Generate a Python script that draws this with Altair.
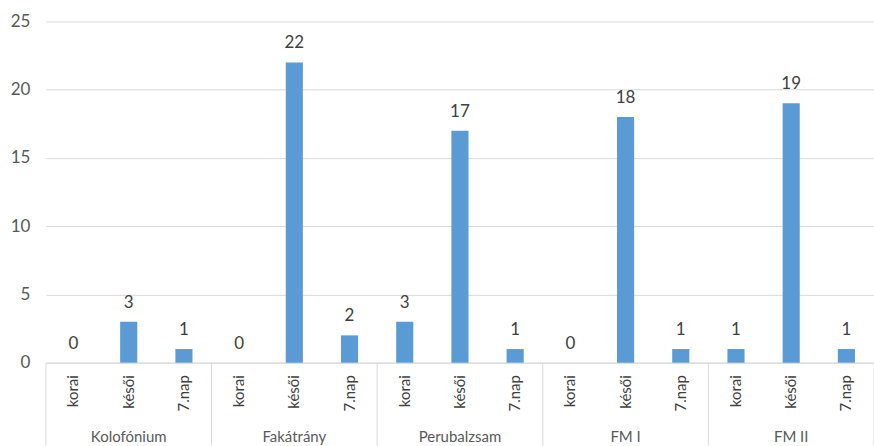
import altair as alt
import pandas as pd

# Groups, phases and counts
groups = ["Kolofónium", "Fakátrány", "Perubalzsam", "FM I", "FM II"]
phases = ["korai", "késői", "7.nap"]
counts = [
    0, 3, 1,     # Kolofónium
    0, 22, 2,    # Fakátrány
    3, 17, 1,    # Perubalzsam
    0, 18, 1,    # FM I
    1, 19, 1,    # FM II
]
y_ticks = [0, 5, 10, 15, 20, 25]

rows = []
i = 0
for g in groups:
    for p in phases:
        rows.append({"group": g, "phase": p, "key": f"{g}|{p}", "value": counts[i]})
        i += 1
df = pd.DataFrame(rows)
order = list(df["key"])

firsts = pd.DataFrame({"key": [f"{g}|{phases[0]}" for g in groups]})
lasts = pd.DataFrame({"key": [f"{groups[-1]}|{phases[-1]}"]})
mids = pd.DataFrame({"key": [f"{g}|{phases[1]}" for g in groups], "group": groups})

FONT = "Lato"
TXT = "#595959"
DARK = "#404040"
LINE = "#d9d9d9"
H = 342

x_enc = alt.X(
    "key:N",
    sort=order,
    scale=alt.Scale(paddingInner=0, paddingOuter=0),
    axis=alt.Axis(
        title=None,
        labelExpr="split(datum.value, '|')[1]",
        labelAngle=270,
        labelAlign="right",
        labelBaseline="middle",
        labelPadding=12,
        labelFont=FONT,
        labelFontSize=15,
        labelColor=DARK,
        ticks=False,
        domainColor=LINE,
        domainWidth=1,
        grid=False,
    ),
)

y_enc = alt.Y(
    "value:Q",
    scale=alt.Scale(domain=[0, 25], nice=False),
    axis=alt.Axis(
        title=None,
        values=y_ticks,
        domain=False,
        ticks=False,
        labelPadding=16,
        labelFont=FONT,
        labelFontSize=17,
        labelColor=TXT,
        gridColor=LINE,
        gridWidth=1,
    ),
)

bars = alt.Chart(df).mark_bar(color="#5B9BD5", width={"band": 0.31}).encode(x=x_enc, y=y_enc)

values = alt.Chart(df).mark_text(
    font=FONT, fontSize=17, color=DARK, baseline="alphabetic", dy=-14
).encode(x=alt.X("key:N", sort=order), y="value:Q", text="value:Q")

dividers = alt.Chart(firsts).mark_rule(color=LINE, strokeWidth=1).encode(
    x=alt.X("key:N", sort=order, bandPosition=0),
    y=alt.value(H),
    y2=alt.value(H + 83),
)
end_divider = alt.Chart(lasts).mark_rule(color=LINE, strokeWidth=1).encode(
    x=alt.X("key:N", sort=order, bandPosition=1),
    y=alt.value(H),
    y2=alt.value(H + 83),
)

group_labels = alt.Chart(mids).mark_text(
    font=FONT, fontSize=15, color=TXT, baseline="middle"
).encode(
    x=alt.X("key:N", sort=order),
    y=alt.value(H + 74),
    text="group:N",
)

chart = (
    alt.layer(bars, values, dividers, end_divider, group_labels)
    .properties(
        width=830,
        height=H,
        padding={"left": 46, "top": 21, "right": 0, "bottom": 83},
        autosize=alt.AutoSizeParams(type="none"),
        background="white",
    )
    .configure_view(stroke=None)
)

chart.save("out.html", embed_options={"renderer": "svg", "actions": False})
